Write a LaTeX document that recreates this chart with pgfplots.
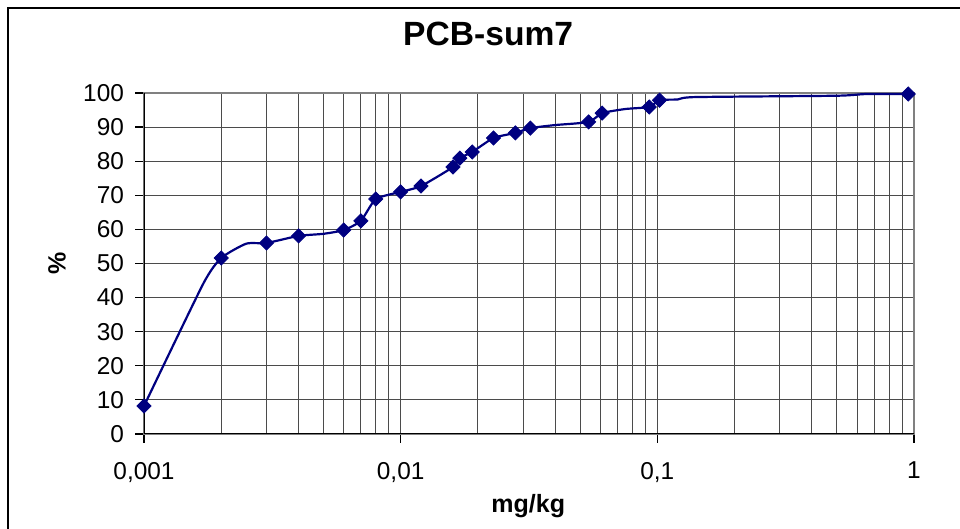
\documentclass[border=0pt]{standalone}
\usepackage{pgfplots}
\pgfplotsset{compat=1.18}
\usepackage{fontspec}
\setmainfont{Liberation Sans}
\definecolor{navyline}{RGB}{0,0,128}
\definecolor{gridgray}{RGB}{75,75,75}

% line vertices (markers plus the bends of the drawn curve)
\begin{document}
\begin{tikzpicture}
\useasboundingbox (0,0) rectangle (480pt,264.5pt);
\draw[line width=1.25pt] (4pt,0) -- (4pt,260.5pt) -- (480pt,260.5pt);
\begin{axis}[
  at={(72pt,47.5pt)}, anchor=south west,
  width=385pt, height=170.5pt, scale only axis,
  xmode=log, xmin=0.001, xmax=1,
  ymin=0, ymax=100,
  xtick={0.001,0.01,0.1,1},
  xticklabels={{0,001},{0,01},{0,1},1},
  ytick={0,10,...,100},
  /pgf/number format/assume math mode=true,
  tick pos=left, tick align=outside,
  major tick length=4.5pt, minor tick length=0pt,
  tick style={black, line width=0.6pt},
  xmajorgrids, xminorgrids, ymajorgrids,
  grid style={gridgray, line width=0.5pt},
  minor grid style={gridgray, line width=0.5pt},
  axis line style={draw=black!50, line width=0.9pt},
  tick label style={font=\fontsize{12.2}{14}\selectfont},
  yticklabel style={xshift=-2pt},
  xticklabel style={yshift=-6pt},
  title={PCB-sum7},
  title style={font=\bfseries\fontsize{16.8}{18}\selectfont, at={(axis description cs:0.447,1.103)}, anchor=base},
  xlabel={mg/kg},
  xlabel style={font=\bfseries\fontsize{12.5}{14}\selectfont, at={(axis description cs:0.499,-0.211)}, anchor=center},
  ylabel={\%},
  ylabel style={font=\bfseries\fontsize{12.5}{14}\selectfont, at={(axis description cs:-0.113,0.501)}, anchor=center},
]
\addplot[navyline, line width=1.1pt, smooth, tension=0.35, no marks] coordinates {
  (0.001,8.2) (0.0017,44) (0.002,51.6) (0.0025,55.8) (0.003,56.0)
  (0.004,58.1) (0.005,58.7) (0.006,59.8) (0.007,62.5) (0.008,68.9)
  (0.010,71.0) (0.012,72.7) (0.016,78.3) (0.017,80.9) (0.019,82.7)
  (0.023,86.8) (0.028,88.3) (0.032,89.7) (0.04,90.6) (0.054,91.5)
  (0.061,94.1) (0.075,95.3) (0.093,95.9) (0.102,97.9) (0.12,98.1)
  (0.14,98.8) (0.5,99.2) (0.65,99.7) (0.95,99.7)
};
\addplot[only marks, mark=square*, mark size=2.5pt, mark options={rotate=45, fill=navyline, draw=navyline}] coordinates {
  (0.001,8.2) (0.002,51.6) (0.003,56.0) (0.004,58.1) (0.006,59.8)
  (0.007,62.5) (0.008,68.9) (0.010,71.0) (0.012,72.7) (0.016,78.3)
  (0.017,80.9) (0.019,82.7) (0.023,86.8) (0.028,88.3) (0.032,89.7)
  (0.054,91.5) (0.061,94.1) (0.093,95.9) (0.102,97.9) (0.95,99.7)
};
\draw[black, line width=0.9pt] (rel axis cs:0,1) -- (rel axis cs:0,0) -- (rel axis cs:1,0);
\end{axis}
\end{tikzpicture}
\end{document}
